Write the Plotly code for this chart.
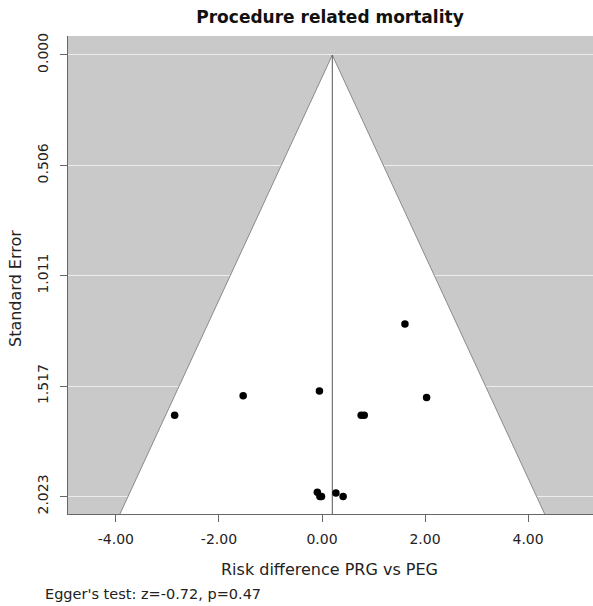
import plotly.graph_objects as go

# Data
risk_diff = [1.61, -1.53, -2.86, -0.05, 2.03, 0.76, 0.82, -0.09, -0.04, -0.01, 0.27, 0.41]
std_err = [1.233, 1.561, 1.650, 1.540, 1.569, 1.650, 1.650, 2.003, 2.023, 2.023, 2.007, 2.023]
pooled = 0.20
z_crit = 1.96
y_ticks = [0.000, 0.506, 1.011, 1.517, 2.023]
y_tick_text = ["0.000", "0.506", "1.011", "1.517", "2.023"]
x_ticks = [-4, -2, 0, 2, 4]
x_tick_text = ["-4.00", "-2.00", "0.00", "2.00", "4.00"]

y_range = [2.103, -0.087]
x_range = [-4.93, 5.26]
se_bottom = y_range[0]

FONT = "DejaVu Sans"
W, H = 593, 606
ML, MR, MT, MB = 68, 0, 36, 92
PW, PH = W - ML - MR, H - MT - MB

fig = go.Figure()

# Funnel (white triangle)
fig.add_trace(go.Scatter(
    x=[pooled - z_crit * se_bottom, pooled, pooled + z_crit * se_bottom],
    y=[se_bottom, 0, se_bottom],
    mode="lines", fill="toself", fillcolor="white",
    line=dict(color="#8a8a8a", width=1), hoverinfo="skip", showlegend=False,
))
# Pooled estimate vertical line
fig.add_trace(go.Scatter(
    x=[pooled, pooled], y=[0, se_bottom], mode="lines",
    line=dict(color="#555555", width=1), hoverinfo="skip", showlegend=False,
))
# Studies
fig.add_trace(go.Scatter(
    x=risk_diff, y=std_err, mode="markers",
    marker=dict(color="black", size=7.5), showlegend=False,
))

fig.update_layout(
    width=W, height=H,
    margin=dict(l=ML, r=MR, t=MT, b=MB),
    paper_bgcolor="white", plot_bgcolor="#c9c9c9",
    font=dict(family=FONT, size=14, color="#222222"),
    title=dict(text="<b>Procedure related mortality</b>", x=(330 - ML) / PW, xref="paper",
               xanchor="center", y=1 - 17 / H, yanchor="middle",
               font=dict(size=17, color="#111111")),
    annotations=[
        dict(text="Egger's test: z=-0.72, p=0.47", xref="paper", yref="paper",
             x=(43 - ML) / PW, y=-(594 - (MT + PH)) / PH, xanchor="left",
             yanchor="middle", showarrow=False, font=dict(size=14.5, color="#222222")),
        dict(text="Risk difference PRG vs PEG", xref="paper", yref="paper",
             x=(329 - ML) / PW, y=-(569 - (MT + PH)) / PH, xanchor="center",
             yanchor="middle", showarrow=False, font=dict(size=16, color="#222222")),
        dict(text="Standard Error", xref="paper", yref="paper", textangle=-90,
             x=(15 - ML) / PW, y=1 - (289 - MT) / PH, xanchor="center",
             yanchor="middle", showarrow=False, font=dict(size=16, color="#222222")),
    ],
)
fig.update_xaxes(
    range=x_range, tickvals=x_ticks, ticktext=x_tick_text,
    showgrid=False, zeroline=False, showline=True, linecolor="#666666", linewidth=1,
    ticks="outside", ticklen=7, tickcolor="#666666", ticklabelstandoff=5,
    tickfont=dict(size=14),
)
fig.update_yaxes(
    range=y_range, tickvals=y_ticks, ticktext=y_tick_text, tickangle=-90,
    showgrid=True, gridcolor="#ececec", gridwidth=1, zeroline=False,
    showline=True, linecolor="#666666", linewidth=1,
    ticks="outside", ticklen=7, tickcolor="#666666", ticklabelstandoff=6,
    tickfont=dict(size=14),
)

fig.write_html("out.html", config={"displayModeBar": False},
               post_script="document.body.style.margin='0';")
